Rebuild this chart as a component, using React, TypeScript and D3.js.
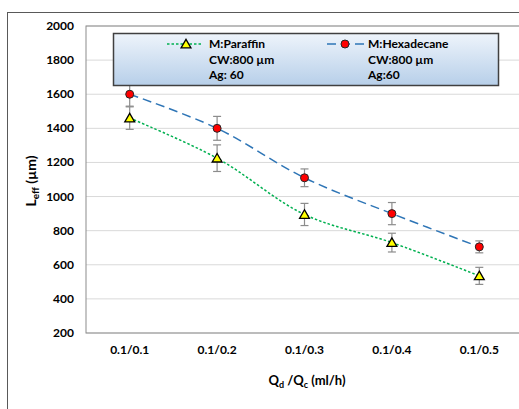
import React from "react";
import * as d3 from "d3";

const categories = ["0.1/0.1", "0.1/0.2", "0.1/0.3", "0.1/0.4", "0.1/0.5"];
const paraffin = [1460, 1225, 895, 730, 535];
const paraffinErr = [66, 78, 65, 55, 50];
const hexadecane = [1600, 1400, 1110, 900, 705];
const hexadecaneErr = [70, 70, 52, 65, 35];
const yTicks = [200, 400, 600, 800, 1000, 1200, 1400, 1600, 1800, 2000];

const W = 519, H = 409;
const M = { left: 86, top: 26, right: 523, bottom: 333 };
const FONT = "Lato, 'Open Sans', sans-serif";

export default function App() {
  const x = d3.scaleBand().domain(categories).range([M.left, M.right]);
  const xc = (c: string) => (x(c) as number) + x.bandwidth() / 2;
  const y = d3.scaleLinear().domain([200, 2000]).range([M.bottom, M.top]);
  const line = d3.line<number>().x((_, i) => xc(categories[i])).y(v => y(v)).curve(d3.curveCatmullRom.alpha(0.5));
  const tri = d3.symbol().type(d3.symbolTriangle).size(42)();

  const errBars = (vals: number[], errs: number[], key: string) =>
    vals.map((v, i) => {
      const cx = xc(categories[i]);
      return (
        <g key={key + i} stroke="#8c8c8c" strokeWidth={1.2}>
          <line x1={cx} x2={cx} y1={y(v + errs[i])} y2={y(v - errs[i])} />
          <line x1={cx - 4} x2={cx + 4} y1={y(v + errs[i])} y2={y(v + errs[i])} />
          <line x1={cx - 4} x2={cx + 4} y1={y(v - errs[i])} y2={y(v - errs[i])} />
        </g>
      );
    });

  return (
    <svg width={W} height={H} style={{ position: "absolute", left: 0, top: 0 }}>
      <defs>
        <linearGradient id="lg" x1="0" y1="0" x2="0" y2="1">
          <stop offset="0" stopColor="#eef4fb" />
          <stop offset="1" stopColor="#b7cfe9" />
        </linearGradient>
      </defs>
      <rect x={0} y={0} width={W} height={H} fill="#fff" />
      <rect x={7.5} y={12.5} width={W} height={H} fill="none" stroke="#595959" strokeWidth={1} />
      {yTicks.map(t => (
        <line key={"g" + t} x1={M.left} x2={M.right} y1={y(t)} y2={y(t)} stroke="#d9d9d9" strokeWidth={1} />
      ))}
      <rect x={M.left} y={M.top} width={M.right - M.left} height={M.bottom - M.top} fill="none" stroke="#8c8c8c" strokeWidth={1} />
      {yTicks.map(t => (
        <text key={"t" + t} x={74} y={y(t) + 4} textAnchor="end" fontFamily={FONT} fontWeight="bold" fontSize={12} fill="#000">{t}</text>
      ))}
      {categories.map(c => (
        <text key={c} x={xc(c)} y={354} textAnchor="middle" fontFamily={FONT} fontWeight="bold" fontSize={12} fill="#000">{c}</text>
      ))}
      <text x={307} y={385} textAnchor="middle" fontFamily={FONT} fontWeight="bold" fontSize={13} fill="#000">
        Q<tspan fontSize={9} dy={3}>d</tspan><tspan dy={-3}> /Q</tspan><tspan fontSize={9} dy={3}>c</tspan><tspan dy={-3}> (ml/h)</tspan>
      </text>
      <text transform="translate(36,181) rotate(-90)" textAnchor="middle" fontFamily={FONT} fontWeight="bold" fontSize={14} fill="#000">
        L<tspan fontSize={10} dy={3}>eff</tspan><tspan dy={-3}> (µm)</tspan>
      </text>
      {errBars(hexadecane, hexadecaneErr, "he")}
      {errBars(paraffin, paraffinErr, "pe")}
      <path d={line(paraffin) || ""} fill="none" stroke="#00b050" strokeWidth={1.5} strokeDasharray="2.5,2" />
      <path d={line(hexadecane) || ""} fill="none" stroke="#2e75b6" strokeWidth={1.5} strokeDasharray="9,5" />
      {paraffin.map((v, i) => (
        <path key={"pm" + i} d={tri || ""} transform={`translate(${xc(categories[i])},${y(v) + 1})`} fill="#ffff00" stroke="#000" strokeWidth={1.3} />
      ))}
      {hexadecane.map((v, i) => (
        <circle key={"hm" + i} cx={xc(categories[i])} cy={y(v)} r={4} fill="#ff0000" stroke="#262626" strokeWidth={1} />
      ))}
      <rect x={113.5} y={33.5} width={385} height={52} fill="url(#lg)" stroke="#404040" strokeWidth={1.5} />
      <line x1={167} x2={202} y1={44} y2={44} stroke="#00b050" strokeWidth={1.5} strokeDasharray="2.5,2" />
      <path d={tri || ""} transform="translate(186,45)" fill="#ffff00" stroke="#000" strokeWidth={1.3} />
      <line x1={327} x2={365} y1={44} y2={44} stroke="#2e75b6" strokeWidth={1.5} strokeDasharray="9,5" />
      <circle cx={345} cy={44} r={4} fill="#ff0000" stroke="#262626" strokeWidth={1} />
      {[["M:Paraffin", "CW:800 µm", "Ag: 60", 209], ["M:Hexadecane", "CW:800 µm", "Ag:60", 368]].map((col, k) => (
        <g key={"lc" + k} fontFamily={FONT} fontWeight="bold" fontSize={12} fill="#000">
          <text x={col[3] as number} y={48}>{col[0]}</text>
          <text x={col[3] as number} y={64}>{col[1]}</text>
          <text x={col[3] as number} y={79}>{col[2]}</text>
        </g>
      ))}
    </svg>
  );
}
